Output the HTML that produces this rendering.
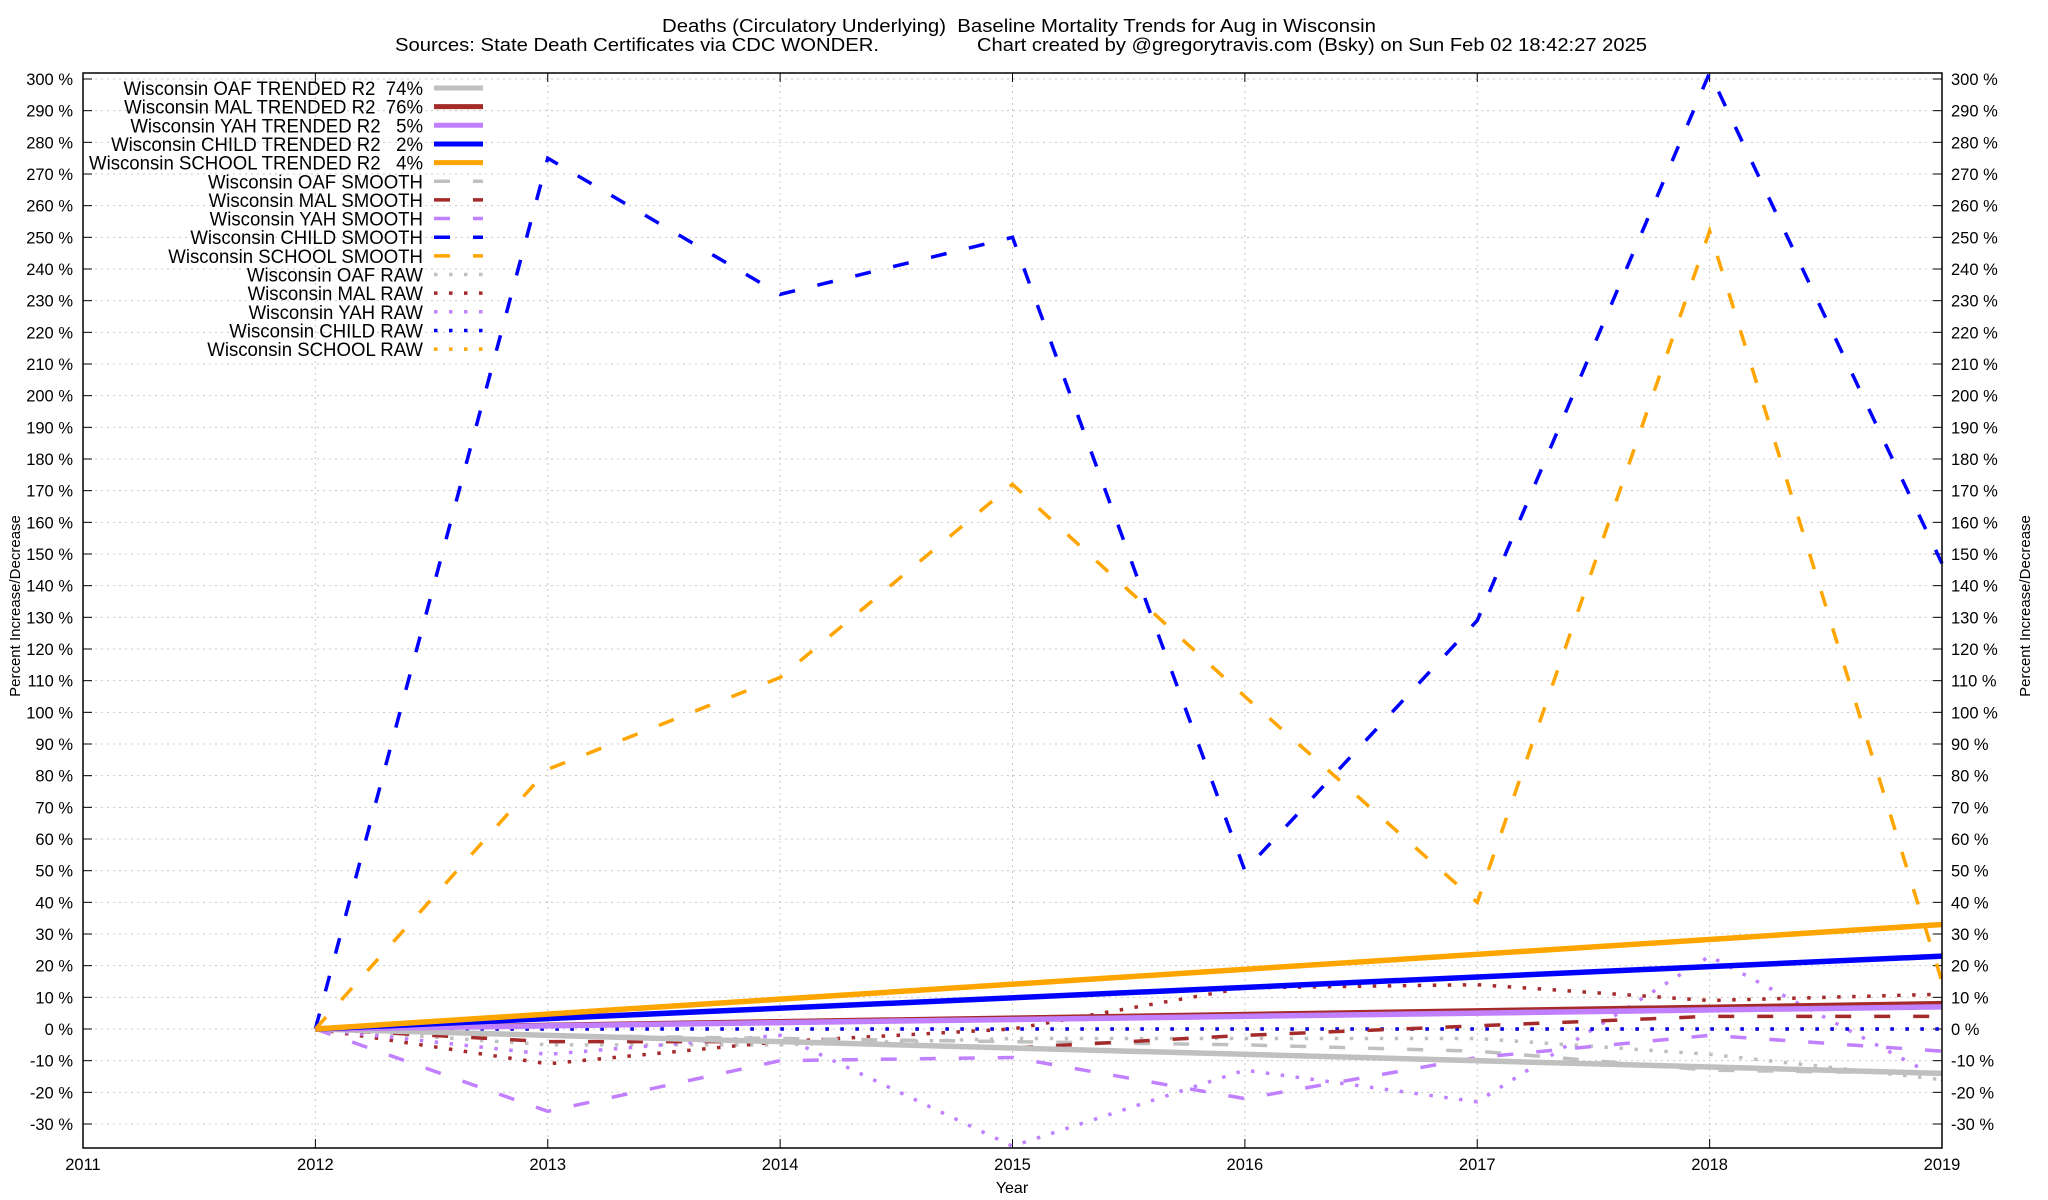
<!DOCTYPE html>
<html><head><meta charset="utf-8"><style>
body{margin:0;background:#fff}
svg{display:block;font-family:"Liberation Sans",sans-serif}
text{white-space:pre}
</style></head><body>
<svg id="c" width="2048" height="1200" viewBox="0 0 2048 1200">
<text x="1019" y="32" font-size="18.5" text-anchor="middle" textLength="714" lengthAdjust="spacingAndGlyphs">Deaths (Circulatory Underlying)  Baseline Mortality Trends for Aug in Wisconsin</text>
<text x="395" y="51" font-size="18.5" textLength="484" lengthAdjust="spacingAndGlyphs">Sources: State Death Certificates via CDC WONDER.</text>
<text x="977" y="51" font-size="18.5" textLength="670" lengthAdjust="spacingAndGlyphs">Chart created by @gregorytravis.com (Bsky) on Sun Feb 02 18:42:27 2025</text>
<text x="1012" y="1193" font-size="16" text-anchor="middle">Year</text>
<text transform="translate(20,606) rotate(-90)" font-size="15" text-anchor="middle">Percent Increase/Decrease</text>
<text transform="translate(2030,606) rotate(-90)" font-size="15" text-anchor="middle">Percent Increase/Decrease</text>
<g id="grid"></g><g id="ticks"></g><g id="series"></g>
<rect x="83" y="73" width="1859" height="1075" fill="none" stroke="#000" stroke-width="1.5"/>
<g id="legend"></g>
</svg>
<script>
const years=[2012,2013,2014,2015,2016,2017,2018,2019];
const xTicks=[2011,2012,2013,2014,2015,2016,2017,2018,2019];
const yTicks=[-30,-20,-10,0,10,20,30,40,50,60,70,80,90,100,110,120,130,140,150,160,170,180,190,200,210,220,230,240,250,260,270,280,290,300];
const trendEnd={OAF:-14,MAL:8,YAH:7,CHILD:23,SCHOOL:33};
const smoothOAF=[0,-2,-3,-4,-5,-7,-13,-14];
const smoothMAL=[0,-4,-4,-6,-2,1,4,4];
const smoothYAH=[0,-26,-10,-9,-22,-9,-2,-7];
const smoothCHILD=[0,275,232,250,50,129,302,147];
const smoothSCHOOL=[0,82,111,172,105,40,252,15];
const rawOAF=[0,-5,-5,-3,-3,-3,-8,-16];
const rawMAL=[0,-11,-4,0,13,14,9,11];
const rawYAH=[0,-8,-2,-37,-13,-23,23,-16];
const rawCHILD=[0,0,0,0,0,0,0,0];
const rawSCHOOL=[0,0,0,0,0,0,0,0];
const colors={OAF:"#c0c0c0",MAL:"#a52a2a",YAH:"#c080ff",CHILD:"#0000ff",SCHOOL:"#ffa500"};
const X0=83,X1=1942,Y0=1148,Y1=73;
const xs=v=>X0+(v-2011)/(2019-2011)*(X1-X0);
const ys=v=>1029-v*(1029-79)/300;
const NS="http://www.w3.org/2000/svg";
function mk(t,a,p){const e=document.createElementNS(NS,t);for(const k in a)e.setAttribute(k,a[k]);p.appendChild(e);return e;}
const grid=document.getElementById('grid'),ticks=document.getElementById('ticks'),ser=document.getElementById('series'),leg=document.getElementById('legend');
yTicks.forEach(v=>{const y=ys(v);
 const g=mk('line',{x1:X0,x2:X1,y1:y,y2:y,stroke:'#c8c8c8','stroke-width':1,'stroke-dasharray':'2,4'},grid);
 
 
 mk('line',{x1:X0,x2:X0+9,y1:y,y2:y,stroke:'#000'},ticks);mk('line',{x1:X1-9,x2:X1,y1:y,y2:y,stroke:'#000'},ticks);
 const l=mk('text',{x:73,y:y+6,'font-size':16.5,'text-anchor':'end'},ticks);l.textContent=v+' %';
 
 
 const r=mk('text',{x:1951,y:y+6,'font-size':16.5},ticks);r.textContent=v+' %';
 
 });
xTicks.forEach(v=>{const x=xs(v);
 const g=mk('line',{x1:x,x2:x,y1:Y1,y2:Y0,stroke:'#c8c8c8','stroke-width':1,'stroke-dasharray':'2,4'},grid);
 
 
 mk('line',{x1:x,x2:x,y1:Y0,y2:Y0-9,stroke:'#000'},ticks);mk('line',{x1:x,x2:x,y1:Y1,y2:Y1+9,stroke:'#000'},ticks);
 const t=mk('text',{x:x,y:1170,'font-size':16.5,'text-anchor':'middle'},ticks);t.textContent=v;
 
 });
function poly(vals,col,w,dash,name){const p=mk('polyline',{points:vals.map((v,i)=>xs(years[i])+','+ys(v)).join(' '),fill:'none',stroke:col,'stroke-width':w,'stroke-dasharray':dash},ser);
 
 }
const raws={OAF:rawOAF,MAL:rawMAL,YAH:rawYAH,CHILD:rawCHILD,SCHOOL:rawSCHOOL};
const smooths={OAF:smoothOAF,MAL:smoothMAL,YAH:smoothYAH,CHILD:smoothCHILD,SCHOOL:smoothSCHOOL};
const keys=["OAF","MAL","YAH","CHILD","SCHOOL"];
["SCHOOL","OAF","MAL","YAH","CHILD"].forEach(k=>poly(raws[k],colors[k],3.5,'3.5,11.5',k.toLowerCase()+'-raw-line'));
keys.forEach(k=>poly(smooths[k],colors[k],3.5,'16,23',k.toLowerCase()+'-smooth-line'));
keys.forEach(k=>{const p=mk('line',{x1:xs(2012),y1:ys(0),x2:xs(2019),y2:ys(trendEnd[k]),stroke:colors[k],'stroke-width':5.5},ser);
 
 });
const r2={OAF:"74%",MAL:"76%",YAH:" 5%",CHILD:" 2%",SCHOOL:" 4%"};
let row=0;const texts=[];
function legRow(label,col,w,dash,name){const y=88+row*18.65;row++;
 const t=mk('text',{x:423,y:y+7,'font-size':19.5,'text-anchor':'end'},leg);t.textContent=label;
 
 
 texts.push(t);
 const l=mk('line',{x1:434,x2:483,y1:y,y2:y,stroke:col,'stroke-width':w,'stroke-dasharray':dash},leg);
 
 }
keys.forEach(k=>legRow('Wisconsin '+k+' TRENDED R2  '+r2[k],colors[k],5,'','legend-'+k.toLowerCase()+'-trend'));
keys.forEach(k=>legRow('Wisconsin '+k+' SMOOTH',colors[k],3.5,'16,23','legend-'+k.toLowerCase()+'-smooth'));
keys.forEach(k=>legRow('Wisconsin '+k+' RAW',colors[k],3.5,'3.5,11.5','legend-'+k.toLowerCase()+'-raw'));
const ref=texts[4].getComputedTextLength();const kf=334/ref;
texts.forEach(t=>{t.setAttribute('textLength',t.getComputedTextLength()*kf);t.setAttribute('lengthAdjust','spacingAndGlyphs');});
</script>
</body></html>
